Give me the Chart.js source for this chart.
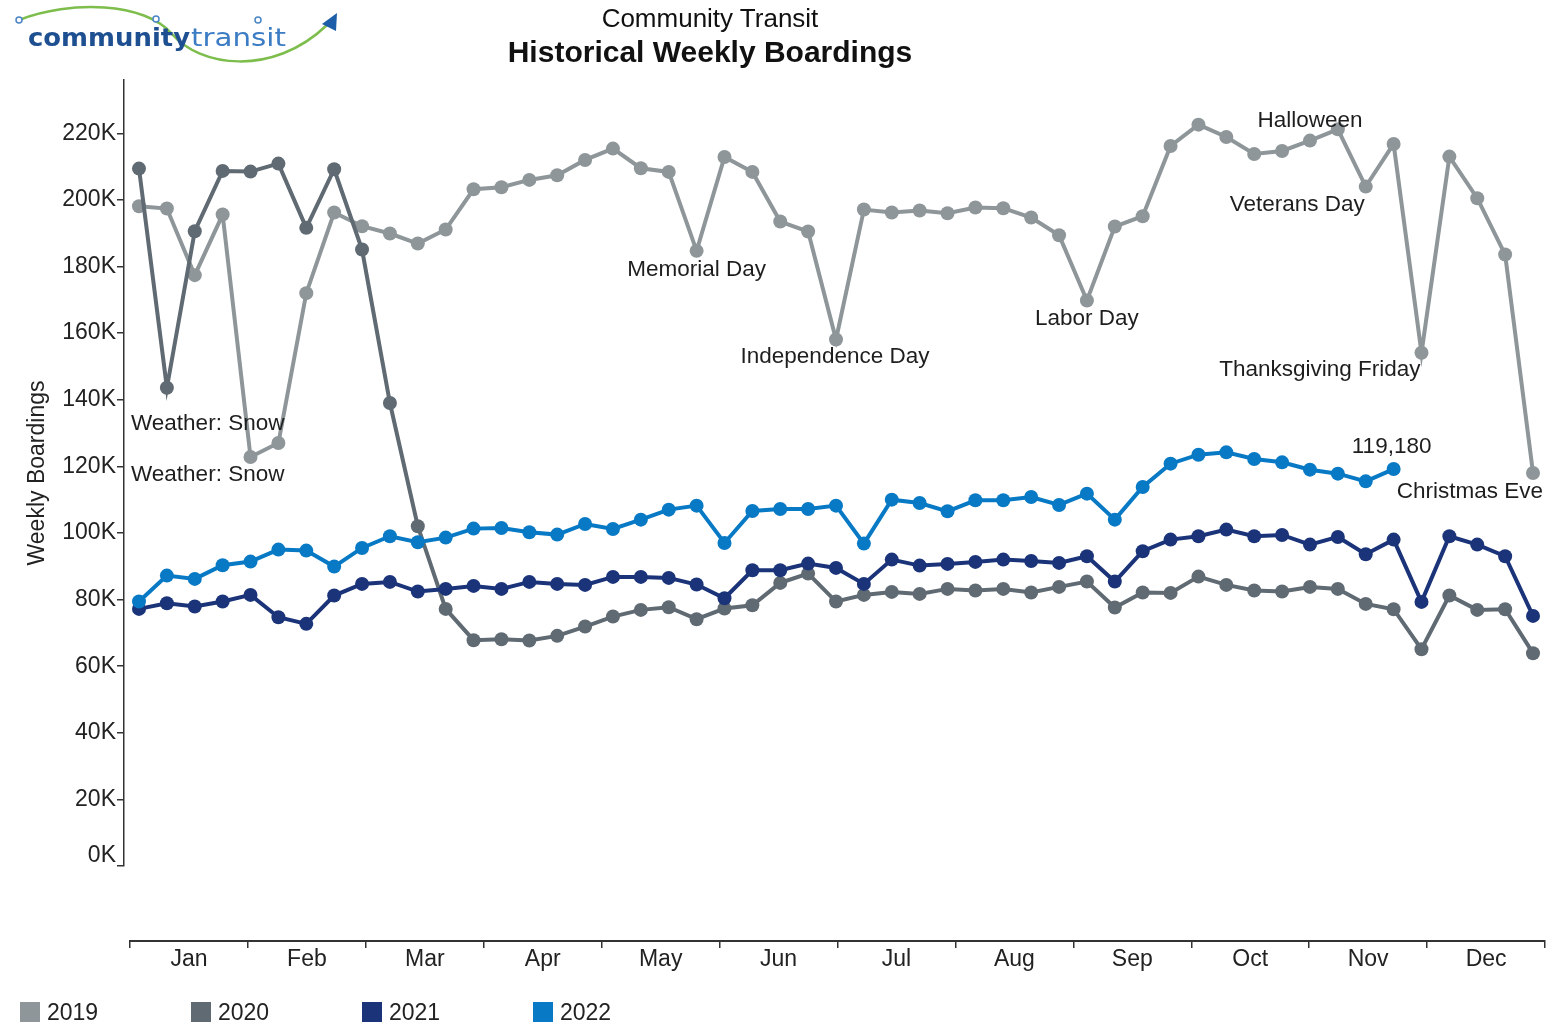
<!DOCTYPE html>
<html>
<head>
<meta charset="utf-8">
<title>Community Transit - Historical Weekly Boardings</title>
<script src="https://cdn.jsdelivr.net/npm/chart.js@4.4.0/dist/chart.umd.min.js"></script>
<style>
  body { margin: 0; background: #fff; font-family: "Liberation Sans", Arial, sans-serif; }
  #wrap { position: relative; width: 1563px; height: 1025px; overflow: hidden; }
  #chart { position: absolute; left: 0; top: 0; }
  #logo { position: absolute; left: 0; top: 0; }
  .title { position: absolute; left: 410px; width: 600px; text-align: center; color: #111; }
  #t1 { top: 3px; font-size: 26px; line-height: 30px; }
  #t2 { top: 35px; font-size: 30px; line-height: 34px; font-weight: bold; }
  #legend { position: absolute; left: 20px; top: 999px; display: flex; }
  .item { width: 171px; height: 26px; display: flex; align-items: center; font-size: 23px; color: #222; }
  .sw { width: 20px; height: 20px; margin-right: 7px; }
</style>
</head>
<body>
<div id="wrap">
  <canvas id="chart" width="1563" height="1025"></canvas>
  <svg id="logo" width="350" height="70" viewBox="0 0 350 70">
    <path d="M19 20 C 70 0, 145 2, 172 34 S 272 78, 327 25" stroke="#7dbd4c" stroke-width="2.5" fill="none"/>
    <circle cx="19" cy="20" r="3" fill="#fff" stroke="#4a86c5" stroke-width="1.5"/>
    <circle cx="156" cy="19" r="3" fill="#fff" stroke="#4a86c5" stroke-width="1.5"/>
    <circle cx="258" cy="20" r="3" fill="#fff" stroke="#4a86c5" stroke-width="1.5"/>
    <text x="28" y="46" font-family="DejaVu Sans" font-weight="bold" font-size="24" fill="#1d4f91" textLength="162" lengthAdjust="spacingAndGlyphs">community</text>
    <text x="191" y="46" font-family="DejaVu Sans" font-size="25" fill="#3b7cc4" textLength="95" lengthAdjust="spacingAndGlyphs">transit</text>
    <polygon points="322,24 337,13 336,31" fill="#1d5ea8"/>
  </svg>
  <div class="title" id="t1">Community Transit</div>
  <div class="title" id="t2">Historical Weekly Boardings</div>
  <div id="legend"></div>
</div>
<script>
// week numbers on the x axis
const WEEKS = [1, 2, 3, 4, 5, 6, 7, 8, 9, 10, 11, 12, 13, 14, 15, 16, 17, 18, 19, 20,
  21, 22, 23, 24, 25, 26, 27, 28, 29, 30, 31, 32, 33, 34, 35, 36, 37, 38, 39, 40,
  41, 42, 43, 44, 45, 46, 47, 48, 49, 50, 51];
const MONTHS = ["Jan", "Feb", "Mar", "Apr", "May", "Jun", "Jul", "Aug", "Sep", "Oct", "Nov", "Dec"];
const Y_TICKS = [0, 20000, 40000, 60000, 80000, 100000, 120000, 140000, 160000, 180000, 200000, 220000];

const Y2019 = [198100, 197400, 177400, 195600, 122800, 127000, 172000, 196200, 192100, 189900,
  186900, 191100, 203200, 203800, 206000, 207400, 212000, 215400, 209500, 208400,
  184700, 212900, 208400, 193500, 190500, 158100, 197100, 196200, 196800, 196000,
  197700, 197500, 194700, 189400, 169800, 192000, 195100, 216200, 222600, 218900,
  213800, 214700, 217800, 221200, 204000, 216800, 154100, 213000, 200500, 183600, 118000];
const Y2020 = [209400, 143600, 190600, 208700, 208500, 210900, 191600, 209200, 185100, 139000,
  102000, 77200, 67800, 68100, 67700, 69100, 71900, 74900, 76900, 77700,
  74100, 77300, 78300, 85000, 87800, 79400, 81400, 82300, 81700, 83200,
  82700, 83200, 82100, 83800, 85400, 77600, 82100, 82000, 86900, 84400,
  82700, 82400, 83800, 83200, 78700, 77100, 65100, 81200, 76900, 77100, 63900];
const Y2021 = [77200, 78900, 77900, 79400, 81400, 74700, 72700, 81200, 84700, 85300,
  82400, 83200, 84100, 83200, 85300, 84700, 84400, 86800, 86800, 86500,
  84500, 80400, 88800, 88800, 90800, 89500, 84700, 92000, 90200, 90700,
  91300, 92000, 91600, 91000, 93000, 85400, 94500, 98000, 99000, 101000,
  99000, 99400, 96500, 98800, 93600, 98000, 79300, 99000, 96500, 93000, 75100];
const Y2022 = [79400, 87200, 86200, 90300, 91400, 95000, 94700, 89900, 95500, 99000,
  97200, 98600, 101300, 101500, 100200, 99500, 102700, 101200, 104000, 107000,
  108200, 97000, 106600, 107200, 107200, 108200, 96800, 110000, 109000, 106500,
  109800, 109800, 110800, 108400, 111800, 104000, 113800, 120800, 123500, 124200,
  122200, 121200, 119000, 117800, 115500, 119180];

// annotations: which series / week they point at
const NOTES = [
  { year: "2019", week: 5, text: "Weather: Snow" },
  { year: "2019", week: 6, text: "Weather: Snow" },
  { year: "2019", week: 21, text: "Memorial Day" },
  { year: "2019", week: 26, text: "Independence Day" },
  { year: "2019", week: 35, text: "Labor Day" },
  { year: "2019", week: 43, text: "Halloween" },
  { year: "2019", week: 45, text: "Veterans Day" },
  { year: "2019", week: 47, text: "Thanksgiving Friday" },
  { year: "2019", week: 51, text: "Christmas Eve" },
  { year: "2022", week: 46, text: null } // last 2022 value
];

const COLORS = { "2019": "#8e9699", "2020": "#606a73", "2021": "#1b3479", "2022": "#0879c4" };
// where each note sits relative to its point
const NOTE_POS = [
  { align: "left", fromLeft: 7, dy: -33 },
  { align: "left", fromLeft: 7, dy: 32 },
  { align: "center", dx: 0, dy: 19 },
  { align: "center", dx: -1, dy: 17 },
  { align: "center", dx: 0, dy: 18 },
  { align: "center", dx: 0, dy: -20 },
  { align: "right", dx: -1, dy: 18 },
  { align: "right", dx: -1, dy: 17 },
  { align: "right", dx: 10, dy: 19 },
  { align: "center", dx: -2, dy: -22 }
];

const FONT = '"Liberation Sans", Arial, sans-serif';
Chart.defaults.font.family = FONT;
Chart.defaults.color = "#222";

function fmtK(v) {
  return v / 1000 + "K";
}

const notesPlugin = {
  id: "notes",
  afterDatasetsDraw(chart) {
    const ctx = chart.ctx;
    const xs = chart.scales.x, ys = chart.scales.y;
    ctx.save();
    ctx.font = "22.5px " + FONT;
    ctx.fillStyle = "#1e1e1e";
    ctx.textBaseline = "middle";
    NOTES.forEach(function (n, i) {
      const ds = chart.data.datasets.find(d => d.label === n.year);
      const v = ds.data[n.week - 1];
      const pos = NOTE_POS[i];
      const px = xs.getPixelForValue(n.week);
      const py = ys.getPixelForValue(v);
      const text = n.text || v.toLocaleString("en-US");
      ctx.textAlign = pos.align;
      const x = pos.fromLeft !== undefined ? chart.chartArea.left + pos.fromLeft : px + pos.dx;
      ctx.fillText(text, x, py + pos.dy);
    });
    ctx.restore();
  },
  afterDraw(chart) {
    const ctx = chart.ctx;
    const ms = chart.scales.month, ys = chart.scales.y;
    ctx.save();
    // month axis line, from first to last month edge
    ctx.strokeStyle = "#333";
    ctx.lineWidth = 2;
    ctx.beginPath();
    ctx.moveTo(ms.getPixelForValue(0), ms.top + 1);
    ctx.lineTo(ms.getPixelForValue(MONTHS.length), ms.top + 1);
    ctx.stroke();
    // the 0K label sits a little above the bottom tick
    ctx.font = "23px " + FONT;
    ctx.fillStyle = "#222";
    ctx.textAlign = "right";
    ctx.textBaseline = "middle";
    ctx.fillText(fmtK(Y_TICKS[0]), ys.right - 8, ys.getPixelForValue(Y_TICKS[0]) - 10);
    ctx.restore();
  }
};

function series(label, data, order) {
  return {
    label: label,
    data: data,
    order: order,
    borderColor: COLORS[label],
    backgroundColor: COLORS[label],
    pointBackgroundColor: COLORS[label],
    pointBorderWidth: 0,
    pointRadius: 7,
    borderWidth: 4,
    tension: 0,
    fill: false
  };
}

const ctx = document.getElementById("chart").getContext("2d");
const chart = new Chart(ctx, {
  type: "line",
  data: {
    labels: WEEKS,
    datasets: [
      series("2019", Y2019, 4),
      series("2020", Y2020, 3),
      series("2021", Y2021, 2),
      series("2022", Y2022, 1)
    ]
  },
  plugins: [notesPlugin],
  options: {
    responsive: false,
    animation: false,
    devicePixelRatio: 1,
    layout: { padding: { top: 80, left: 0, right: 18, bottom: 45 } },
    plugins: {
      legend: { display: false },
      tooltip: { enabled: false }
    },
    scales: {
      x: {
        type: "linear",
        min: 0.462,
        max: 51.43,
        weight: 0,
        grid: { display: false },
        border: { display: false },
        ticks: { display: false },
        afterFit: function (s) { s.height = 74; }
      },
      month: {
        type: "linear",
        axis: "x",
        position: "bottom",
        min: -0.0509,
        max: 12,
        weight: 1,
        afterBuildTicks: function (s) {
          s.ticks = MONTHS.map((m, i) => ({ value: i })).concat([{ value: MONTHS.length }]);
        },
        afterFit: function (s) { s.height = 40; },
        grid: { drawOnChartArea: false, drawTicks: true, tickLength: 8, color: "#333", lineWidth: 1.5 },
        border: { display: false },
        ticks: {
          autoSkip: false,
          maxRotation: 0,
          padding: 0,
          labelOffset: 59,
          color: "#222",
          font: { size: 23, lineHeight: 1 },
          callback: function (value) { return MONTHS[value] || ""; }
        }
      },
      y: {
        min: 0,
        max: 236000,
        afterBuildTicks: function (s) { s.ticks = Y_TICKS.map(v => ({ value: v })); },
        afterFit: function (s) { s.width = 124; },
        grid: { drawOnChartArea: false, drawTicks: true, tickLength: 7, color: "#333", lineWidth: 1.5 },
        border: { display: true, color: "#333", width: 1.5 },
        ticks: {
          padding: 1,
          color: "#222",
          font: { size: 23 },
          // 0K is drawn by the notes plugin, slightly raised
          callback: function (value) { return value === 0 ? "" : fmtK(value); }
        },
        title: {
          display: true,
          text: "Weekly Boardings",
          color: "#222",
          font: { size: 23 },
          padding: { top: 24, bottom: 0 }
        }
      }
    }
  }
});

// legend built from the chart's datasets
var html = "";
chart.data.datasets.forEach(function (d) {
  html += '<div class="item"><span class="sw" style="background:' + d.borderColor + '"></span>' + d.label + "</div>";
});
document.getElementById("legend").innerHTML = html;
</script>
</body>
</html>
